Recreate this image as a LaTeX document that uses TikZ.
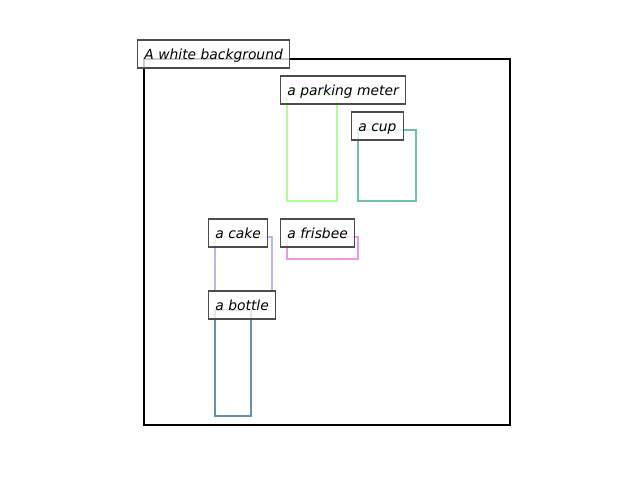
\documentclass[tikz,border=0pt]{standalone}
\usepackage{fontspec}
\setmainfont{DejaVu Sans}
\definecolor{meter}{RGB}{174,255,150}
\definecolor{cup}{RGB}{112,192,176}
\definecolor{cake}{RGB}{192,180,240}
\definecolor{frisbee}{RGB}{240,152,228}
\definecolor{bottle}{RGB}{104,144,174}
\begin{document}
\begin{tikzpicture}[x=0.01in,y=-0.01in]
\tikzstyle{box}=[line width=1.6pt]
\tikzstyle{lbl}=[draw=black!70,fill=white,fill opacity=0.8,text opacity=1,line width=0.8pt,
  anchor=west,inner xsep=5pt,inner ysep=0pt,minimum height=20.2pt,text height=9pt,text depth=1.2pt,
  font=\itshape]
\useasboundingbox (0,0) rectangle (640,480);
% frame
\draw [black,box] (144,59) rectangle (510,425);
% objects
\draw [meter,box] (287,95) rectangle (337,201);
\draw [cup,box] (358,130) rectangle (416,201);
\draw [cake,box] (215,237) rectangle (272,291);
\draw [frisbee,box] (287,237) rectangle (358,259);
\draw [bottle,box] (215,310) rectangle (251,416);
% labels
\node [lbl] (bg) at (137,54) {A white background};
\node [lbl] (meterlbl) at (280,90) {a parking meter};
\node [lbl] (cuplbl) at (351,126) {a cup};
\node [lbl] (cakelbl) at (208,233) {a cake};
\node [lbl] (frisbeelbl) at (280,233) {a frisbee};
\node [lbl] (bottlelbl) at (208,305) {a bottle};
\end{tikzpicture}
\end{document}
